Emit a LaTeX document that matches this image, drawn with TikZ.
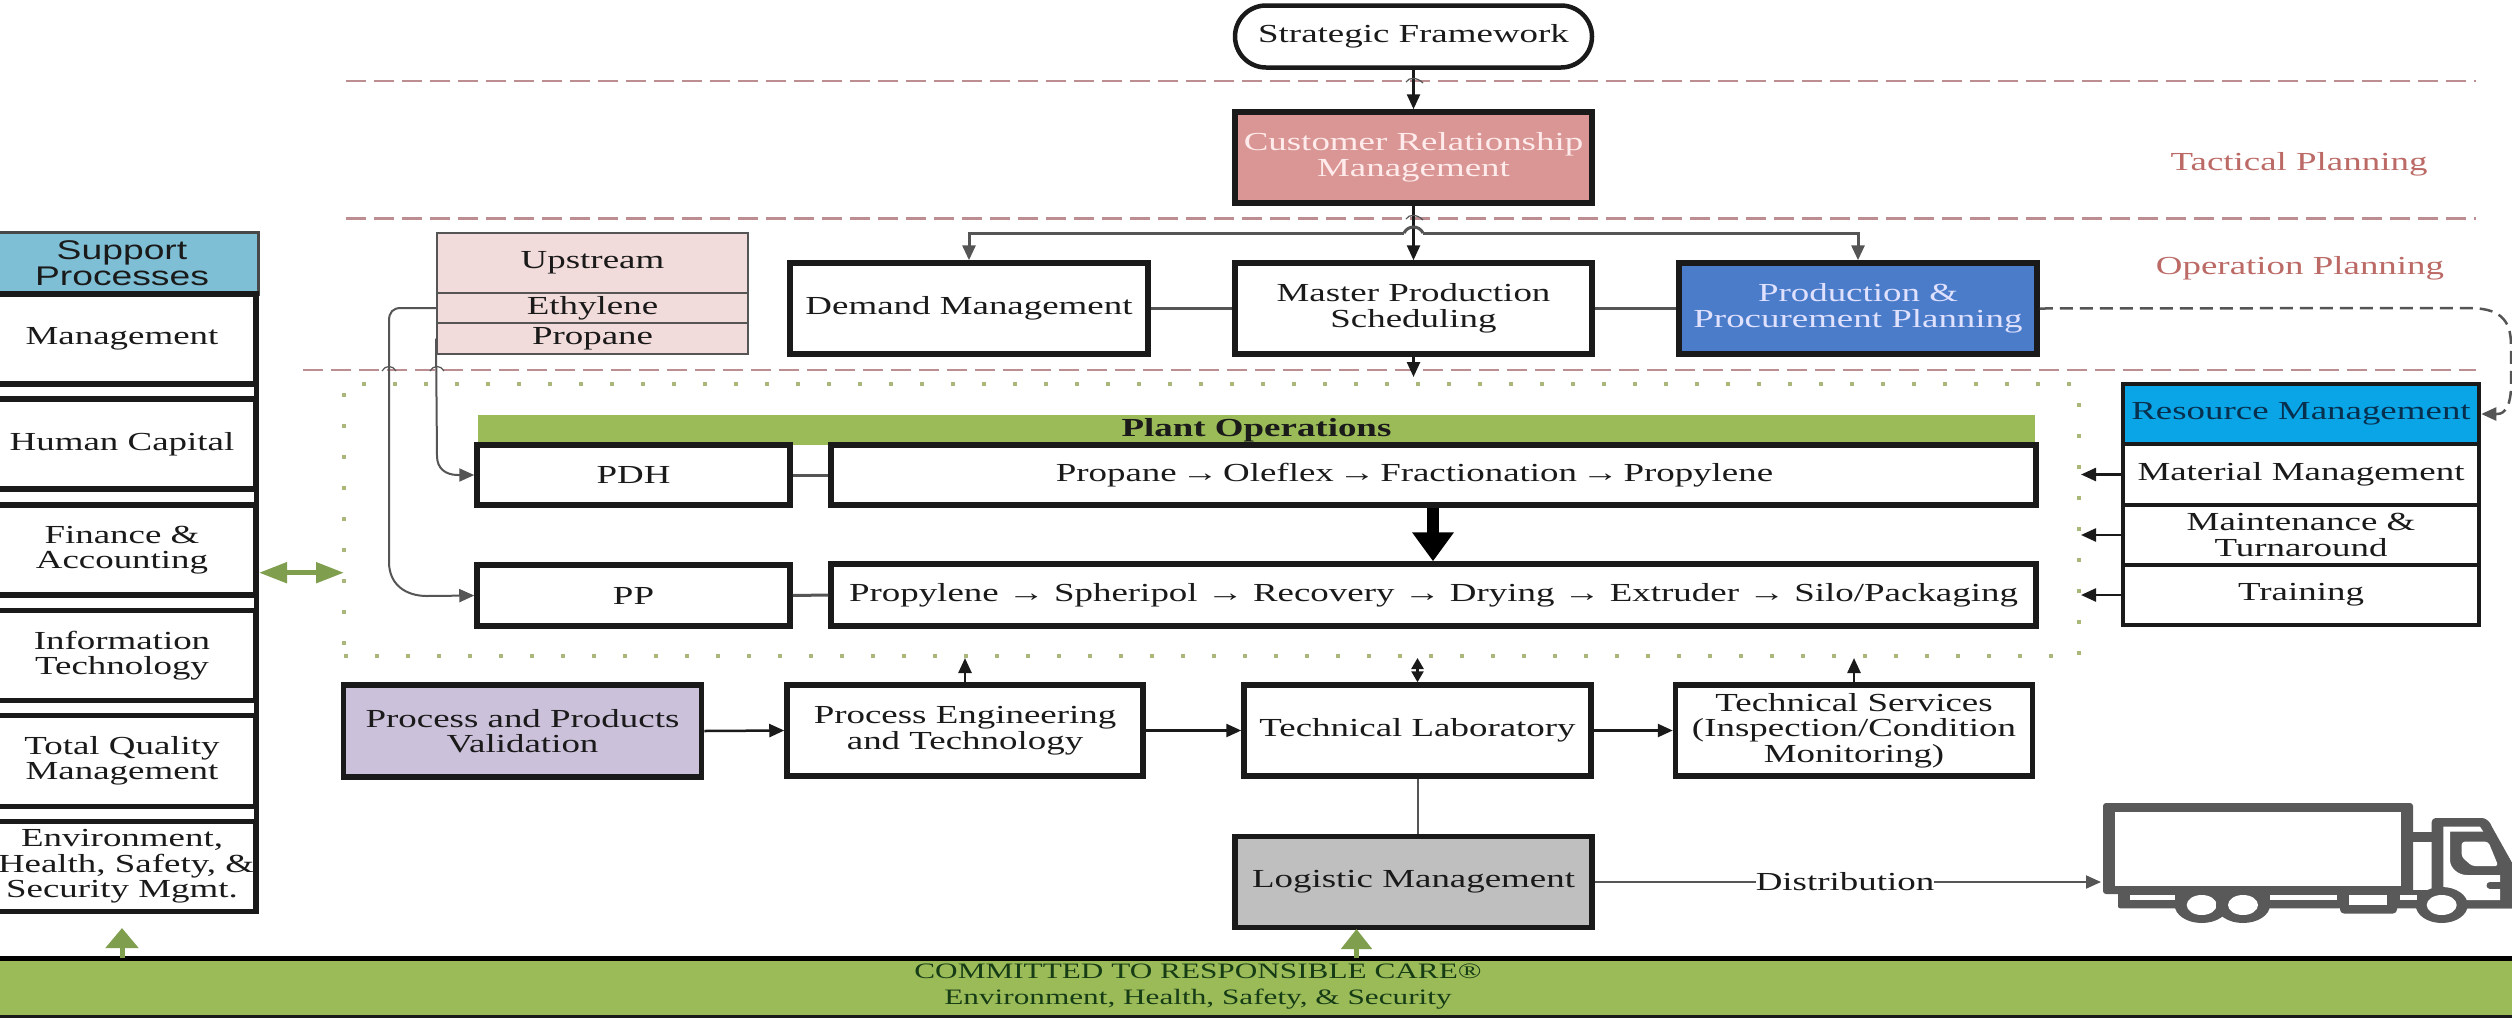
\documentclass[tikz,border=0pt]{standalone}
\usepackage{fontspec}
\setmainfont{Liberation Serif}[FakeStretch=1.42]
\newfontfamily\supfont{Liberation Sans}[FakeStretch=1.38]
\usetikzlibrary{arrows.meta,shapes.misc}
\definecolor{gbar}{HTML}{9BBB59}
\definecolor{garrow}{HTML}{7F9F4F}
\definecolor{redline}{HTML}{BC8E92}
\definecolor{redtext}{HTML}{BC6A66}
\definecolor{dotgreen}{HTML}{A9B77A}
\definecolor{conn}{HTML}{555555}
\definecolor{truckc}{HTML}{595959}
\definecolor{crmc}{HTML}{D99694}
\definecolor{prodc}{HTML}{4A7CC9}
\definecolor{resc}{HTML}{0AA5E6}
\definecolor{valc}{HTML}{CCC1DA}
\definecolor{logc}{HTML}{BFBFBF}
\definecolor{supc}{HTML}{7FBFD6}
\definecolor{upc}{HTML}{F2DCDB}
\definecolor{ink}{HTML}{1A1A1A}
\definecolor{restext}{HTML}{07304F}
\newcommand{\ar}{\textbf{→}}
\newcommand{\tar}{\hspace{-4.5pt}\textbf{→}\hspace{-4.5pt}}
\tikzset{
  every node/.style={font=\fontsize{26}{25.5}\selectfont,align=center,inner sep=0pt,text=ink},
  heavy/.style={draw=ink,line width=5.5pt,fill=white},
  medium/.style={draw=ink,line width=4pt,fill=white},
  upbox/.style={draw=conn,line width=2pt,fill=upc},
  grp/.style={draw=dotgreen,line width=4pt,dash pattern=on 4pt off 27pt},
  sep/.style={draw=redline,line width=2.5pt,dash pattern=on 20pt off 8pt},
  tipb/.style={-{Triangle[length=15pt,width=13pt]}},
  tips/.style={{Triangle[length=11pt,width=12pt]}-{Triangle[length=11pt,width=12pt]}},
  link/.style={draw=ink,line width=2.5pt},
  glink/.style={draw=conn,line width=3pt},
  thinl/.style={draw=conn,line width=2pt},
  hop/.style={draw=conn,line width=1.2pt},
  garr/.style={draw=garrow,line width=5pt},
  truckf/.style={fill=truckc,draw=none},
  whitef/.style={fill=white,draw=none},
}
\begin{document}
\begin{tikzpicture}[x=1pt,y=-1pt]
\useasboundingbox (0,0) rectangle (2512,1018);
\clip (0,0) rectangle (2512,1018);
\fill[white] (0,0) rectangle (2512,1018);

% plant area
\node[grp,minimum width=1735,minimum height=272] (plant) at (1211.5,520) {};

% separators
\coordinate (sa1) at (346,81); \coordinate (sa2) at (2476,81);
\coordinate (sb1) at (346,218.5); \coordinate (sb2) at (2476,218.5);
\coordinate (sc1) at (303,370); \coordinate (sc2) at (2476,370);
\draw[sep] (sa1) -- (sa2);
\draw[sep] (sb1) -- (sb2);
\draw[sep] (sc1) -- (sc2);

% planning labels
\node[text=redtext] (tactical) at (2299,164) {Tactical Planning};
\node[text=redtext] (operation) at (2300,268) {Operation Planning};

% top boxes
\node[draw=ink,line width=4.5pt,fill=white,rounded rectangle,minimum width=357,minimum height=62] (sf) at (1413.5,36.5) {Strategic Framework};
\node[heavy,fill=crmc,text=white!92!red,minimum width=357,minimum height=91] (crm) at (1413.5,157.5) {Customer Relationship\\Management};
\node[heavy,minimum width=357,minimum height=91] (mps) at (1413.5,308.5) {Master Production\\Scheduling};
\node[heavy,minimum width=358,minimum height=91] (dm) at (969,308.5) {Demand Management};
\node[heavy,fill=prodc,text=white!88!blue,minimum width=358,minimum height=91] (prod) at (1858,308.5) {Production \&\\Procurement Planning};

% upstream
\node[upbox,minimum width=311,minimum height=60] (ups) at (592.5,263) {Upstream};
\node[upbox,minimum width=311,minimum height=30] (eth) at (592.5,308) {Ethylene};
\node[upbox,minimum width=311,minimum height=31] (prop) at (592.5,338.5) {Propane};

% plant operations
\node[fill=gbar,minimum width=1557,minimum height=30,font=\fontsize{26}{25}\selectfont\bfseries] (bar) at (1256.5,430) {Plant Operations};
\node[heavy,minimum width=313,minimum height=60] (pdh) at (633.5,475) {PDH};
\node[heavy,minimum width=313,minimum height=61] (pp) at (633.5,595.5) {PP};
\node[heavy,minimum width=1205,minimum height=60] (pdhp) at (1433.5,475) {Propane \tar{} Oleflex \tar{} Fractionation \tar{} Propylene\hspace*{38pt}};
\node[heavy,minimum width=1205,minimum height=62] (ppp) at (1433.5,595) {Propylene \ar{} Spheripol \ar{} Recovery \ar{} Drying \ar{} Extruder \ar{} Silo/Packaging};

% resource column
\node[heavy,line width=4.5pt,fill=resc,text=restext,minimum width=356,minimum height=60] (res) at (2301,414) {Resource Management};
\node[medium,minimum width=356,minimum height=61] (mat) at (2301,474.5) {Material Management};
\node[medium,minimum width=356,minimum height=60] (mnt) at (2301,535) {Maintenance \&\\Turnaround};
\node[medium,minimum width=356,minimum height=60] (trn) at (2301,595) {Training};

% lower row
\node[heavy,fill=valc,minimum width=358,minimum height=92] (val) at (522.5,731) {Process and Products\\Validation};
\node[heavy,minimum width=356,minimum height=91] (pe) at (965,730.5) {Process Engineering\\and Technology};
\node[heavy,minimum width=347,minimum height=91] (tl) at (1417.5,730.5) {Technical Laboratory};
\node[heavy,minimum width=357,minimum height=91] (ts) at (1854,730.5) {Technical Services\\(Inspection/Condition\\Monitoring)};
\node[heavy,fill=logc,minimum width=357,minimum height=91] (lm) at (1413.5,882) {Logistic Management};
\node (dist) at (1845,882) {Distribution};

% support column
\draw[draw=ink,line width=5pt] (256,294) -- (256,912);
\node[draw=ink!80,line width=3pt,fill=supc,minimum width=272,minimum height=62,font=\supfont\fontsize{27}{26}\selectfont] (sup) at (122,263) {Support\\Processes};
\node[heavy,minimum width=268,minimum height=90] (s1) at (122,339) {Management};
\node[heavy,minimum width=268,minimum height=90] (s2) at (122,444) {Human Capital};
\node[heavy,minimum width=268,minimum height=90] (s3) at (122,550) {Finance \&\\Accounting};
\node[heavy,minimum width=268,minimum height=90] (s4) at (122,655.5) {Information\\Technology};
\node[heavy,minimum width=268,minimum height=91] (s5) at (122,761) {Total Quality\\Management};
\node[heavy,minimum width=268,minimum height=90] (s6) at (122,866.5) {Environment,\\\hspace*{8pt}Health, Safety, \&\\Security Mgmt.};

% banner
\node[fill=gbar,minimum width=2540,minimum height=58] (banner) at (1256,987.5) {};
\draw[draw=black,line width=5pt] (banner.north west) -- (banner.north east);
\draw[draw=ink,line width=2.5pt] (banner.south west) -- (banner.south east);
\node[text=ink!85!green,font=\fontsize{22}{25.5}\selectfont] (bant) at (1198,986.5) {COMMITTED TO RESPONSIBLE CARE\textregistered\\Environment, Health, Safety, \& Security};

% connectors
\draw[link,tipb] (sf.south) -- (crm.north);
\coordinate (mdrop) at (1413.5,377);
\draw[link,tipb] (crm.south) -- (mps.north);
\draw[link,tipb] (mps.south) -- (mdrop);
\coordinate (busl) at (969,233); \coordinate (busr) at (1858,233);
\coordinate (hopa) at (1404,233); \coordinate (hopb) at (1423,233);
\draw[glink] (hopa) .. controls (1408,225) and (1419,225) .. (hopb);
\draw[glink,tipb] (hopa) -- (busl) -- (dm.north);
\draw[glink,tipb] (hopb) -- (busr) -- (prod.north);
\draw[glink] (dm.east) -- (mps.west);
\draw[glink] (mps.east) -- (prod.west);
\draw[hop] (1406,82) .. controls (1409,77) and (1417,77) .. (1423,83);
\draw[hop] (1406,219) .. controls (1409,214) and (1417,214) .. (1423,220);
\draw[thinl,tipb] (eth.west) -- (401,308) .. controls (393,308) and (389,312) .. (389,321) -- (389,562) .. controls (389,584) and (405,596) .. (427,596) -- (pp.west);
\draw[thinl,tipb] (prop.west) -- (437,456) .. controls (437,468) and (445,475) .. (458,475) -- (pdh.west);
\draw[hop] (382,371) .. controls (385,365) and (393,365) .. (396,371);
\draw[hop] (430,371) .. controls (433,365) and (441,365) .. (444,371);
\draw[glink] (pdh.east) -- (pdhp.west);
\draw[glink] (pp.east) -- (ppp.west);
\draw[draw=black,line width=12pt,-{Triangle[length=29pt,width=40pt]}] (pdhp.south -| 1433,0) -- (ppp.north -| 1433,0);
\draw[link,tipb] (mat.west) -- (mat.west -| plant.east);
\draw[link,tipb] (mnt.west) -- (mnt.west -| plant.east);
\draw[link,tipb] (trn.west) -- (trn.west -| plant.east);
\draw[link,conn,dash pattern=on 13pt off 7pt,tipb] (prod.east) -- (2468,308) .. controls (2498,308) and (2511,318) .. (2511,345) -- (2511,385) .. controls (2511,404) and (2506,414) .. (2497,414) -- (res.east);
\draw[link,tipb] (val.east) -- (pe.west);
\draw[link,tipb] (pe.east) -- (tl.west);
\draw[link,tipb] (tl.east) -- (ts.west);
\draw[link,tipb] (pe.north) -- (pe.north |- plant.south);
\draw[link,tips] (tl.north) -- (tl.north |- plant.south);
\draw[link,tipb] (ts.north) -- (ts.north |- plant.south);
\draw[thinl] (tl.south) -- (tl.south |- lm.north);
\draw[thinl] (lm.east) -- (dist.west);
\coordinate (truckin) at (2101,882);
\draw[thinl,tipb] (dist.east) -- (truckin);
\coordinate (ga) at (259,572.7); \coordinate (gb) at (344,572.7);
\draw[garr,{Triangle[length=28pt,width=20pt]}-{Triangle[length=28pt,width=20pt]}] (ga) -- (gb);
\coordinate (gt1) at (122,928); \coordinate (gt2) at (1356.5,929);
\draw[garr,-{Triangle[length=20pt,width=32pt]}] (banner.north -| gt1) -- (gt1);
\draw[garr,-{Triangle[length=20pt,width=30pt]}] (banner.north -| gt2) -- (gt2);

% truck
\fill[truckf,rounded corners=3pt] (2103,803) rectangle (2413,894);
\fill[whitef] (2115,811.7) rectangle (2401,886);
\fill[truckf,rounded corners=2pt] (2118,890) rectangle (2525,908.3);
\fill[whitef] (2130,895) rectangle (2175,900);
\fill[whitef] (2270,895) rectangle (2337,900);
\fill[whitef] (2400,895) rectangle (2417,900);
\fill[truckf,rounded corners=4pt] (2340,893) rectangle (2397,913.5);
\fill[whitef] (2349,895) rectangle (2387,905);
\fill[truckf] (2412,832) rectangle (2432,842);
\fill[truckf,rounded corners=4pt] (2431.7,818) -- (2478,818) .. controls (2485,818) and (2489,821) .. (2492,827) -- (2520,877) -- (2520,908.3) -- (2431.7,908.3) -- cycle;
\fill[whitef] (2443.3,826.7) -- (2480,826.7) -- (2483.3,831.7) -- (2450,831.7) -- (2450,860) .. controls (2450,868) and (2458,875) .. (2466.7,875) -- (2500,875) -- (2500,900) -- (2443.3,900) -- cycle;
\fill[whitef,rounded corners=3pt] (2461.7,841.7) -- (2488.3,841.7) -- (2498.3,866) -- (2472,866) -- (2461.7,857) -- cycle;
\draw[truckc,line width=7pt,line cap=round] (2490,885.3) -- (2504,885.3);
\foreach \wx/\wr in {2201.7/27,2243/27,2441.7/26}{
  \fill[truckf] (\wx,905) ellipse [x radius=\wr,y radius=18];
  \fill[whitef] (\wx,905) ellipse [x radius=15,y radius=10];
}
\end{tikzpicture}
\end{document}
